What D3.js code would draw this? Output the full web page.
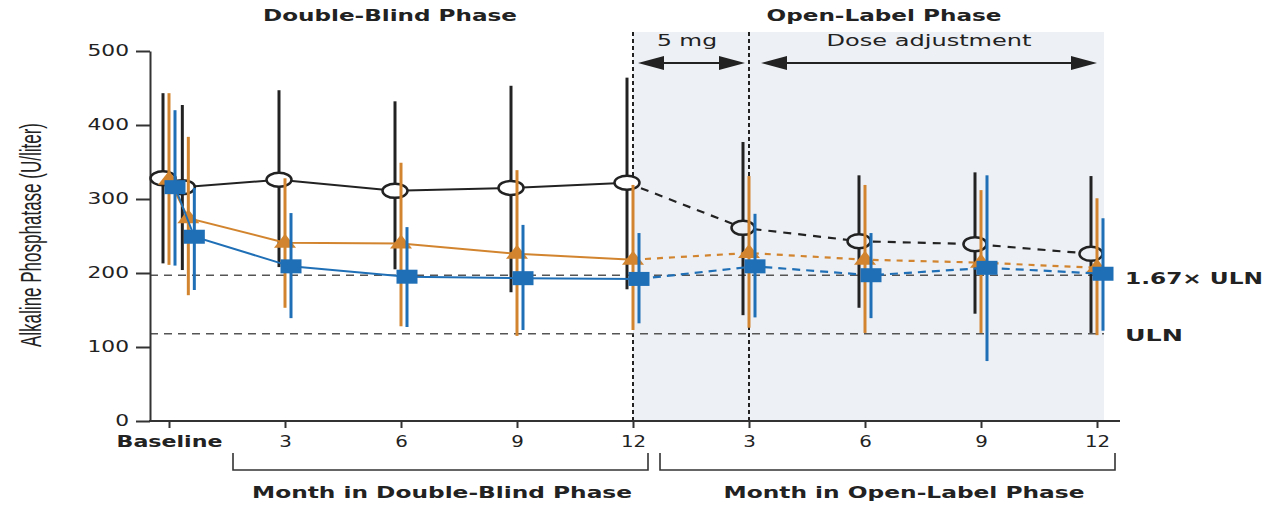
<!DOCTYPE html>
<html>
<head>
<meta charset="utf-8">
<script src="https://cdn.jsdelivr.net/npm/d3@7"></script>
<style>
    body { margin: 0; background: #fff; }
    svg { display: block; }
</style>
</head>
<body>
<div id="chart"></div>
<script>
// Time points in months from baseline (0.5 = week-2 visit)
const months = [0, 0.5, 3, 6, 9, 12, 15, 18, 21, 24];
const tickMonths = [0, 3, 6, 9, 12, 15, 18, 21, 24];
const tickLabels = ["Baseline", "3", "6", "9", "12", "3", "6", "9", "12"];
const yTicks = [0, 100, 200, 300, 400, 500];

// Alkaline phosphatase (U/liter), mean with lower / upper whiskers
const placeboMean = [328, 316, 326, 311, 315, 322, 261, 243, 239, 226];
const placeboLow  = [213, 204, 208, 205, 174, 178, 143, 153, 145, 119];
const placeboHigh = [443, 427, 447, 432, 453, 464, 377, 332, 336, 331];

const orangeMean = [326, 274, 241, 240, 226, 218, 227, 218, 214, 207];
const orangeLow  = [211, 170, 153, 128, 115, 123, 126, 119, 119, 116];
const orangeHigh = [443, 384, 328, 349, 339, 319, 331, 319, 312, 301];

const blueMean = [316, 249, 209, 195, 193, 192, 209, 197, 207, 199];
const blueLow  = [210, 177, 139, 127, 123, 132, 140, 139, 81, 122];
const blueHigh = [420, 315, 281, 262, 265, 254, 280, 254, 332, 274];

// reference lines
const ulnValue = 118;
const refLines = [
    {value: ulnValue * 1.67, label: "1.67\u00d7 ULN"},
    {value: ulnValue, label: "ULN"},
];

const phases = [
    {label: "Double-Blind Phase", from: 0, to: 12, axis: "Month in Double-Blind Phase"},
    {label: "Open-Label Phase", from: 12, to: 24, axis: "Month in Open-Label Phase"},
];
const doseArrows = [
    {label: "5 mg", from: 12, to: 15},
    {label: "Dose adjustment", from: 15, to: 24},
];

const W = 1271, H = 506;
const FONT = "'DejaVu Sans', Verdana, sans-serif";
const SHADE = "#edf0f5";
const INK = "#222";

const x = d3.scaleLinear().domain([0, 24]).range([169, 1097]);
const y = d3.scaleLinear().domain([0, 500]).range([421, 51]);

const svg = d3.select("#chart").append("svg")
    .attr("width", W)
    .attr("height", H);

function addText(parent, str, px, py, opts) {
    opts = opts || {};
    let t = parent.append("text")
        .attr("x", px)
        .attr("y", py)
        .attr("text-anchor", opts.anchor || "middle")
        .style("font-family", opts.family || FONT)
        .style("font-size", (opts.size || 16) + "px")
        .style("font-weight", opts.bold ? "bold" : "normal")
        .attr("fill", INK)
        .text(str);
    if (opts.width)
        t.attr("textLength", opts.width).attr("lengthAdjust", "spacingAndGlyphs");
    return t;
}

function stretch(sel, k) {
    sel.each(function() {
        let len = this.getComputedTextLength();
        d3.select(this).attr("textLength", len * k).attr("lengthAdjust", "spacingAndGlyphs");
    });
}

// open-label shading
const shadeTop = 32;
svg.append("rect")
    .attr("x", x(12))
    .attr("y", shadeTop)
    .attr("width", 1104 - x(12))
    .attr("height", y(0) - shadeTop)
    .attr("fill", SHADE);

// phase separators
svg.selectAll("line.sep").data([12, 15]).enter().append("line")
    .attr("class", "sep")
    .attr("x1", d => x(d)).attr("x2", d => x(d))
    .attr("y1", shadeTop).attr("y2", y(0))
    .attr("stroke", INK)
    .attr("stroke-width", 2)
    .attr("stroke-dasharray", "4,3");

// reference lines
svg.selectAll("line.ref").data(refLines).enter().append("line")
    .attr("class", "ref")
    .attr("x1", 150).attr("x2", 1104)
    .attr("y1", d => y(d.value)).attr("y2", d => y(d.value))
    .attr("stroke", "#555")
    .attr("stroke-width", 1.6)
    .attr("stroke-dasharray", "8,6");

refLines.forEach((d, i) => {
    addText(svg, d.label, 1125, y(d.value) + (i == 0 ? 9 : 7),
        {anchor: "start", bold: true, size: 16.5, width: i == 0 ? 138 : 58});
});

// dose arrows
const arrowY = 63;
function arrowHead(px, dir) {
    let l = 26, h = 7;
    return "M" + px + "," + arrowY + "L" + (px - dir * l) + "," + (arrowY - h) +
        "L" + (px - dir * l) + "," + (arrowY + h) + "Z";
}
doseArrows.forEach((a, i) => {
    let x0 = x(a.from) + (i == 0 ? 5 : 12);
    let x1 = x(a.to) - (i == 0 ? 4 : 0);
    svg.append("line")
        .attr("x1", x0 + 10).attr("x2", x1 - 10)
        .attr("y1", arrowY).attr("y2", arrowY)
        .attr("stroke", INK).attr("stroke-width", 2);
    svg.append("path").attr("d", arrowHead(x0, -1)).attr("fill", INK);
    svg.append("path").attr("d", arrowHead(x1, 1)).attr("fill", INK);
    addText(svg, a.label, i == 0 ? 687 : 929, 46, {size: 15.5, width: i == 0 ? 60 : 205});
});

// phase titles
addText(svg, phases[0].label, 390, 21, {bold: true, size: 16.5, width: 254});
addText(svg, phases[1].label, 884, 21, {bold: true, size: 16.5, width: 235});

// axes
const yAxis = svg.append("g")
    .attr("transform", "translate(150,0)")
    .call(d3.axisLeft(y).tickValues(yTicks).tickSize(14).tickPadding(7).tickSizeOuter(0));
yAxis.select(".domain").attr("stroke", "#333").attr("stroke-width", 2);
yAxis.selectAll(".tick line").attr("stroke", "#333").attr("stroke-width", 2);
yAxis.selectAll("text")
    .style("font-family", FONT)
    .style("font-size", "15px")
    .attr("fill", INK);
stretch(yAxis.selectAll("text"), 1.45);

const xAxis = svg.append("g")
    .attr("transform", "translate(0," + y(0) + ")")
    .call(d3.axisBottom(x).tickValues(tickMonths).tickSize(7)
        .tickFormat((d, i) => tickLabels[i]));
xAxis.select(".domain").remove();
xAxis.selectAll(".tick line").attr("stroke", "#333").attr("stroke-width", 2);
xAxis.selectAll("text")
    .attr("y", 26).attr("dy", null)
    .style("font-family", FONT)
    .style("font-size", "16.5px")
    .style("font-weight", (d, i) => i == 0 ? "bold" : "normal")
    .attr("fill", INK);
stretch(xAxis.selectAll("text").filter((d, i) => i > 0), 1.2);
xAxis.selectAll("text").filter((d, i) => i == 0)
    .attr("textLength", 106).attr("lengthAdjust", "spacingAndGlyphs");
svg.append("line")
    .attr("x1", 149).attr("x2", 1120)
    .attr("y1", y(0)).attr("y2", y(0))
    .attr("stroke", "#333").attr("stroke-width", 2);

// phase brackets under the x axis, label centres
const brackets = [[233, 648, 442], [660, 1115, 904]];
brackets.forEach((b, i) => {
    svg.append("path")
        .attr("d", "M" + b[0] + ",453V470H" + b[1] + "V453")
        .attr("fill", "none")
        .attr("stroke", "#333")
        .attr("stroke-width", 1.6);
    addText(svg, phases[i].axis, b[2], 498,
        {bold: true, size: 16.5, width: i == 0 ? 380 : 361});
});

// y axis title
addText(svg, "Alkaline Phosphatase (U/liter)", 0, 0,
    {family: "'Liberation Sans Narrow', 'Arial Narrow', sans-serif", size: 29, width: 224})
    .attr("transform", "translate(41,235) rotate(-90)");

// series
const series = [
    {mean: placeboMean, low: placeboLow, high: placeboHigh, color: INK, dx: -6, marker: "circle", dash: "8,7"},
    {mean: orangeMean, low: orangeLow, high: orangeHigh, color: "#d2852e", dx: 0, marker: "triangle", dash: "6,6"},
    {mean: blueMean, low: blueLow, high: blueHigh, color: "#1f6fb6", dx: 6, marker: "square", dash: "8,6"},
];

series.forEach(s => {
    let pts = months.map((m, i) => ({m: m, i: i, mean: s.mean[i], low: s.low[i], high: s.high[i]}));
    let g = svg.append("g");
    let px = d => x(d.m) + s.dx;

    g.selectAll("line.err").data(pts).enter().append("line")
        .attr("x1", px).attr("x2", px)
        .attr("y1", d => y(d.low)).attr("y2", d => y(d.high))
        .attr("stroke", s.color)
        .attr("stroke-width", 3);

    let line = d3.line().x(px).y(d => y(d.mean));
    g.append("path")
        .attr("d", line(pts.filter(d => d.m <= 12)))
        .attr("fill", "none")
        .attr("stroke", s.color)
        .attr("stroke-width", 2);
    g.append("path")
        .attr("d", line(pts.filter(d => d.m >= 12)))
        .attr("fill", "none")
        .attr("stroke", s.color)
        .attr("stroke-width", 2.2)
        .attr("stroke-dasharray", s.dash);

    if (s.marker == "circle") {
        g.selectAll("ellipse").data(pts).enter().append("ellipse")
            .attr("cx", px).attr("cy", d => y(d.mean))
            .attr("rx", d => d.m > 12 ? 11.5 : 12.5)
            .attr("ry", 7)
            .attr("fill", d => d.m > 12 ? SHADE : "#fff")
            .attr("stroke", s.color)
            .attr("stroke-width", 2.5);
    } else if (s.marker == "triangle") {
        g.selectAll("path.tri").data(pts).enter().append("path")
            .attr("class", "tri")
            .attr("d", d => {
                let cx = px(d), cy = y(d.mean);
                return "M" + cx + "," + (cy - 9) + "L" + (cx + 11) + "," + (cy + 5) +
                    "L" + (cx - 11) + "," + (cy + 5) + "Z";
            })
            .attr("fill", s.color);
    } else {
        g.selectAll("rect").data(pts).enter().append("rect")
            .attr("x", d => px(d) - 10.5).attr("y", d => y(d.mean) - 7)
            .attr("width", 21).attr("height", 14)
            .attr("fill", s.color);
    }
});
</script>
</body>
</html>
